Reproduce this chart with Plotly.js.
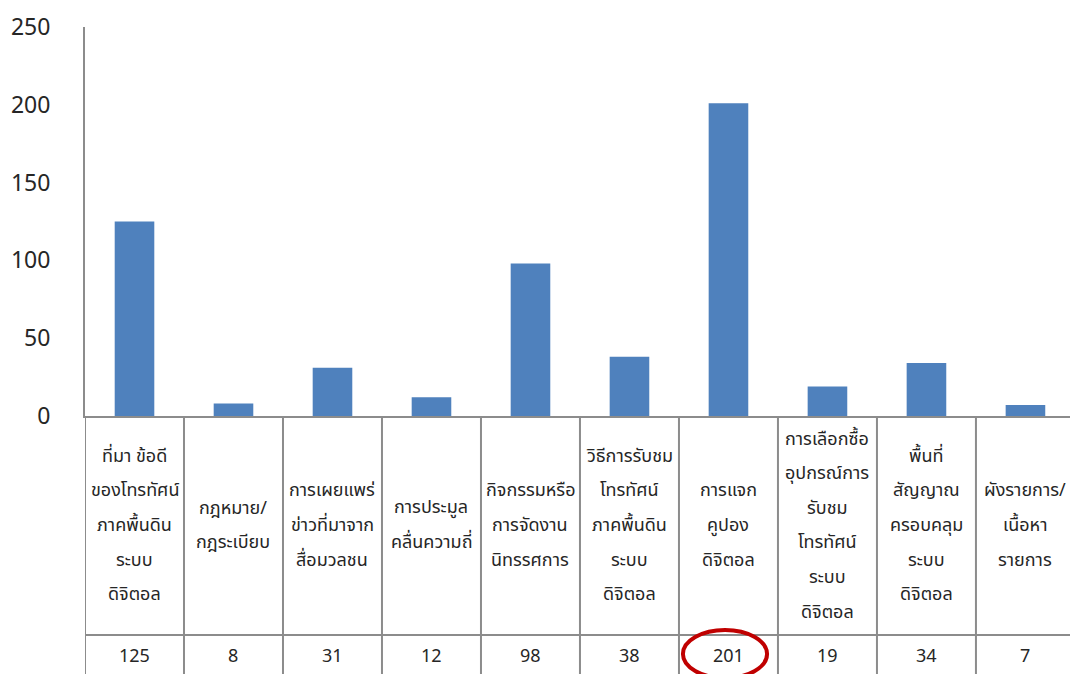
<!DOCTYPE html>
<html>
<head>
<meta charset="utf-8">
<script src="https://cdn.plot.ly/plotly-3.0.1.min.js"></script>
<style>
  html, body { margin: 0; padding: 0; background: #ffffff; }
  #chart { width: 1070px; height: 674px; }
</style>
</head>
<body>
<div id="chart"></div>
<script>
// Topics, each split into the lines shown in its table cell
var topicLines = [
  ["ที่มา ข้อดี", "ของโทรทัศน์", "ภาคพื้นดิน", "ระบบ", "ดิจิตอล"],
  ["กฎหมาย/", "กฎระเบียบ"],
  ["การเผยแพร่", "ข่าวที่มาจาก", "สื่อมวลชน"],
  ["การประมูล", "คลื่นความถี่"],
  ["กิจกรรมหรือ", "การจัดงาน", "นิทรรศการ"],
  ["วิธีการรับชม", "โทรทัศน์", "ภาคพื้นดิน", "ระบบ", "ดิจิตอล"],
  ["การแจก", "คูปอง", "ดิจิตอล"],
  ["การเลือกซื้อ", "อุปกรณ์การ", "รับชม", "โทรทัศน์", "ระบบ", "ดิจิตอล"],
  ["พื้นที่", "สัญญาณ", "ครอบคลุม", "ระบบ", "ดิจิตอล"],
  ["ผังรายการ/", "เนื้อหา", "รายการ"]
];

// Number of responses per topic
var counts = [125, 8, 31, 12, 98, 38, 201, 19, 34, 7];

// Value axis ticks
var yTicks = [0, 50, 100, 150, 200, 250];

// Topic highlighted with a ring in the value row
var highlightIndex = 6;

var xIdx = counts.map(function (_, i) { return i; });

var gridColor = '#8c8c8c';
var textColor = '#262626';
var fontFamily = '"Noto Sans", "Noto Sans Thai", Tahoma, sans-serif';

// Table geometry (pixels below the category axis)
var labelCenterOffset = 108;   // centre of the label row
var lineStep = 34.6;           // spacing between label lines
var rowDividerOffset = 219;    // line between labels and values
var valueOffset = 239;         // centre of the value row
var plotHeightPx = 389;

function paperY(offsetPx) { return -offsetPx / plotHeightPx; }

var annotations = [];
topicLines.forEach(function (lines, i) {
  var n = lines.length;
  lines.forEach(function (line, j) {
    annotations.push({
      xref: 'x', yref: 'paper',
      x: i, y: 0,
      yanchor: 'middle', xanchor: 'center',
      yshift: -(labelCenterOffset + (j - (n - 1) / 2) * lineStep),
      text: line, showarrow: false,
      font: { family: fontFamily, size: 18, color: textColor }
    });
  });
});
counts.forEach(function (v, i) {
  annotations.push({
    xref: 'x', yref: 'paper',
    x: i, y: 0,
    yanchor: 'middle', xanchor: 'center',
    yshift: -valueOffset,
    text: String(v), showarrow: false,
    font: { family: fontFamily, size: 18, color: textColor }
  });
});

var shapes = [];
// column dividers of the data table
for (var k = 0; k <= counts.length; k++) {
  shapes.push({
    type: 'line', xref: 'x', yref: 'paper',
    x0: k - 0.5, x1: k - 0.5, y0: 0, y1: paperY(300),
    line: { color: gridColor, width: 2 }
  });
}
// divider between label row and value row
shapes.push({
  type: 'line', xref: 'paper', yref: 'paper',
  x0: 0, x1: 1, y0: paperY(rowDividerOffset), y1: paperY(rowDividerOffset),
  line: { color: gridColor, width: 2 }
});
// ring around the highlighted value
shapes.push({
  type: 'circle', xref: 'x', yref: 'paper',
  x0: highlightIndex - 0.46, x1: highlightIndex + 0.39,
  y0: paperY(214), y1: paperY(262),
  line: { color: '#C00000', width: 4 },
  fillcolor: 'rgba(0,0,0,0)'
});

var trace = {
  type: 'bar',
  x: xIdx,
  y: counts,
  width: 0.4,
  marker: { color: '#4F81BD', line: { width: 0 } },
  hoverinfo: 'y'
};

var layout = {
  width: 1070,
  height: 674,
  margin: { l: 85, r: 0, t: 27, b: 258, pad: 0 },
  paper_bgcolor: '#ffffff',
  plot_bgcolor: '#ffffff',
  showlegend: false,
  font: { family: fontFamily, color: textColor },
  xaxis: {
    type: 'linear',
    range: [-0.5, 9.45],
    showticklabels: false,
    ticks: '',
    showgrid: false,
    zeroline: false,
    showline: true,
    linecolor: gridColor,
    linewidth: 2,
    fixedrange: true
  },
  yaxis: {
    range: [0, 250],
    tickvals: yTicks,
    ticktext: yTicks.map(String),
    ticks: '',
    ticklabelstandoff: 28,
    tickfont: { family: fontFamily, size: 23, color: textColor },
    showgrid: false,
    zeroline: false,
    showline: true,
    linecolor: gridColor,
    linewidth: 2,
    fixedrange: true
  },
  annotations: annotations,
  shapes: shapes
};

Plotly.newPlot('chart', [trace], layout, { staticPlot: true, displayModeBar: false });
</script>
</body>
</html>
